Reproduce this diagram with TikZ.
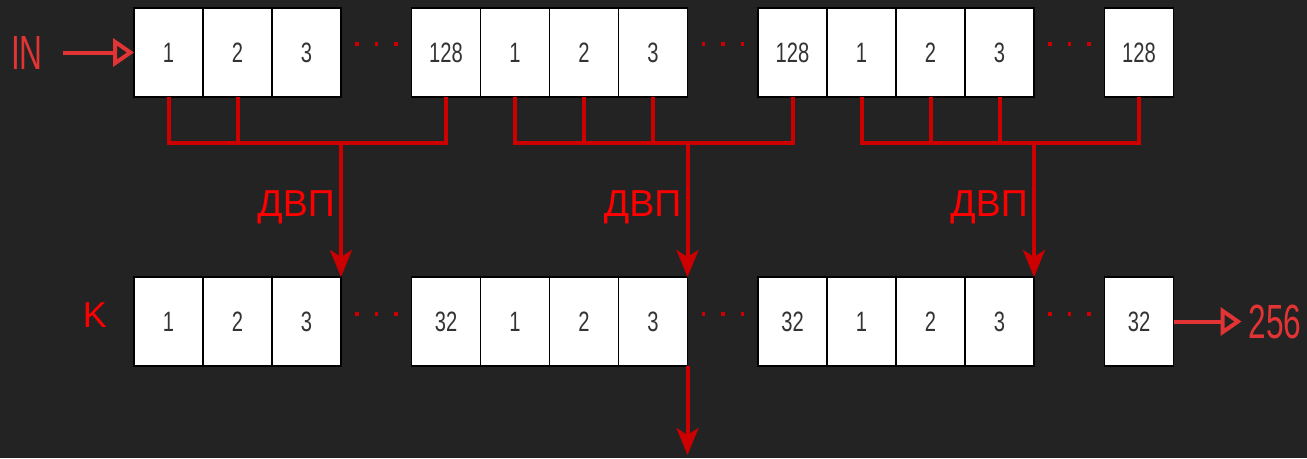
\documentclass[tikz,border=0pt]{standalone}
\usepackage{fontspec}
\setmainfont{Liberation Sans}
\newfontfamily\cellfont[FakeStretch=0.72]{Liberation Sans}
\newfontfamily\iofont[FakeStretch=0.66]{Liberation Sans}
\usepackage{xcolor}
\usetikzlibrary{positioning,arrows.meta}

\definecolor{board}{HTML}{232323}
\definecolor{wire}{HTML}{CC0000}
\definecolor{mark}{HTML}{FF0000}
\definecolor{iored}{HTML}{E23434}
\definecolor{digit}{HTML}{333333}
\newcommand{\gapdots}{\rule{3.5pt}{3.5pt}\hspace{16pt}\rule{3.5pt}{3.5pt}\hspace{16pt}\rule{3.5pt}{3.5pt}}

\begin{document}
\begin{tikzpicture}[
    x=1pt, y=1pt,
    cell/.style={draw=black, line width=1.5pt, fill=white, rectangle, minimum width=69pt, minimum height=89pt, inner sep=0pt, outer sep=0pt, text=digit, font=\cellfont\fontsize{28}{30}\selectfont},
    dots/.style={inner sep=0pt, text=wire},
    dwt/.style={inner sep=0pt, text=mark, font=\fontsize{37.5}{40}\selectfont},
    iolabel/.style={inner sep=0pt, text=iored, font=\iofont\fontsize{48}{52}\selectfont},
    bus/.style={draw=wire, line width=4pt},
    arrow/.style={bus, -{Stealth[length=27pt, width=22pt, inset=7pt]}},
    ioarrow/.style={draw=iored, line width=4pt, -{Triangle[open, length=21pt, width=28pt]}}
]
\path[fill=board, use as bounding box] (0,0) rectangle (1307,-458);

\node[cell] (t1) at (168.5,-52.5) {1};
\node[cell, right=0pt of t1] (t2) {2};
\node[cell, right=0pt of t2] (t3) {3};
\node[cell, right=70.5pt of t3] (t4) {128};
\node[cell, right=0pt of t4] (t5) {1};
\node[cell, right=0pt of t5] (t6) {2};
\node[cell, right=0pt of t6] (t7) {3};
\node[cell, right=70.5pt of t7] (t8) {128};
\node[cell, right=0pt of t8] (t9) {1};
\node[cell, right=0pt of t9] (t10) {2};
\node[cell, right=0pt of t10] (t11) {3};
\node[cell, right=70.5pt of t11] (t12) {128};

\node[cell, below=180pt of t1] (b1) {1};
\node[cell, right=0pt of b1] (b2) {2};
\node[cell, right=0pt of b2] (b3) {3};
\node[cell, right=70.5pt of b3] (b4) {32};
\node[cell, right=0pt of b4] (b5) {1};
\node[cell, right=0pt of b5] (b6) {2};
\node[cell, right=0pt of b6] (b7) {3};
\node[cell, right=70.5pt of b7] (b8) {32};
\node[cell, right=0pt of b8] (b9) {1};
\node[cell, right=0pt of b9] (b10) {2};
\node[cell, right=0pt of b10] (b11) {3};
\node[cell, right=70.5pt of b11] (b12) {32};

\node[dots, right=14.25pt of t3, yshift=8.5pt] (d1) {\gapdots};
\node[dots, right=14.25pt of t7, yshift=8.5pt] (d2) {\gapdots};
\node[dots, right=14.25pt of t11, yshift=8.5pt] (d3) {\gapdots};
\node[dots, right=14.25pt of b3, yshift=7.5pt] (d4) {\gapdots};
\node[dots, right=14.25pt of b7, yshift=7.5pt] (d5) {\gapdots};
\node[dots, right=14.25pt of b11, yshift=7.5pt] (d6) {\gapdots};

\node[iolabel, left=91pt of t1] (in) {IN};
\node[iolabel, right=75pt of b12] (res) {256};
\node[dwt, font=\fontsize{36}{38}\selectfont, left=27pt of b1, yshift=6pt] (key) {K};

\coordinate[below=46pt of t3.south east] (j1);
\coordinate[below=46pt of t7.south east] (j2);
\coordinate[below=46pt of t11.south east] (j3);
\coordinate[below=89pt of b7.south east] (down);

\node[dwt, below left=47pt and 6pt of j1] (w1) {ДВП};
\node[dwt, below left=47pt and 6pt of j2] (w2) {ДВП};
\node[dwt, below left=47pt and 6pt of j3] (w3) {ДВП};

\draw[ioarrow, shorten <=20pt] (in) -- (t1);
\draw[ioarrow, shorten >=7pt] (b12) -- (res);

\draw[bus] (t1.south) |- (j1) -| (t4.south);
\draw[bus] (t2.south) -- (t2.south |- j1);
\draw[arrow] (j1) -- (b3.north east);

\draw[bus] (t5.south) |- (j2) -| (t8.south);
\draw[bus] (t6.south) -- (t6.south |- j2);
\draw[bus] (t7.south) -- (t7.south |- j2);
\draw[arrow] (j2) -- (b7.north east);
\draw[arrow] (b7.south east) -- (down);

\draw[bus] (t9.south) |- (j3) -| (t12.south);
\draw[bus] (t10.south) -- (t10.south |- j3);
\draw[bus] (t11.south) -- (t11.south |- j3);
\draw[arrow] (j3) -- (b11.north east);
\end{tikzpicture}
\end{document}
